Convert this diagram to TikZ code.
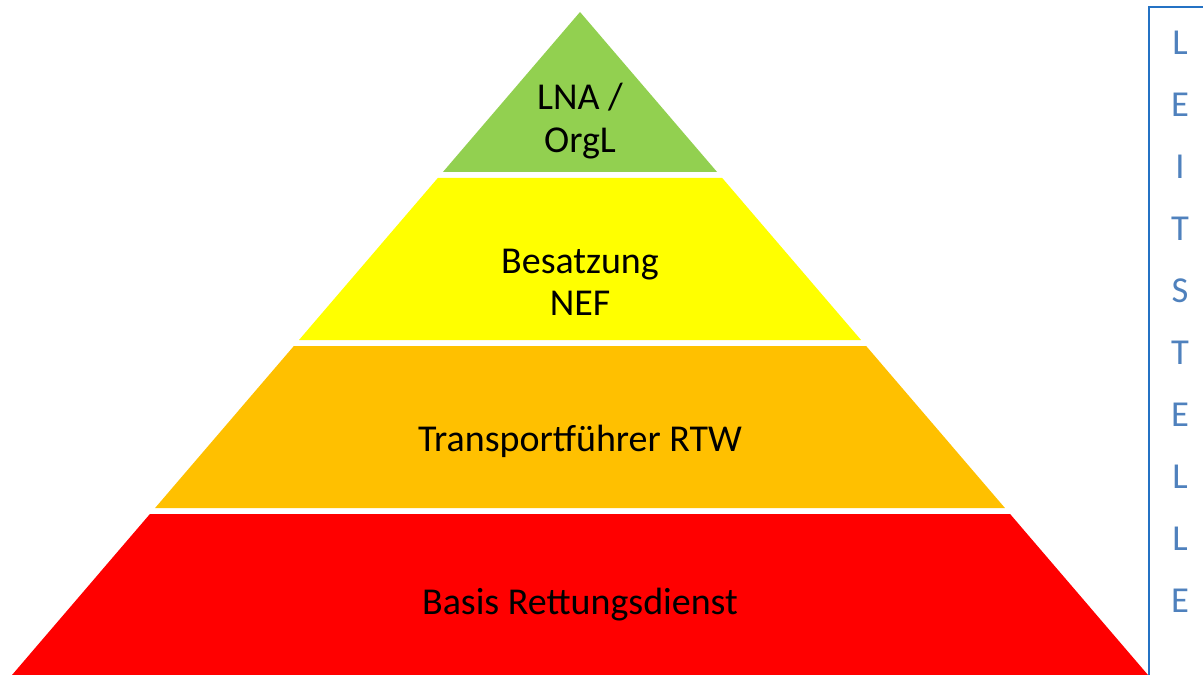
\documentclass[tikz,border=0pt]{standalone}
\usepackage{fontspec}
\setmainfont{Carlito}
\usetikzlibrary{positioning,calc}
\definecolor{lgreen}{RGB}{146,208,80}
\definecolor{lyellow}{RGB}{255,255,0}
\definecolor{lorange}{RGB}{255,192,0}
\definecolor{lred}{RGB}{255,0,0}
\definecolor{boxblue}{RGB}{36,114,196}
\definecolor{letterblue}{RGB}{79,129,189}
\tikzset{
  lbl/.style={font=\fontsize{27}{30}\selectfont,align=center,text=black,inner sep=0pt},
  leit/.style={font=\fontsize{26}{30}\selectfont,text=letterblue,inner sep=0pt},
  leitbox/.style={draw=boxblue,line width=1.4pt}
}
\begin{document}
\begin{tikzpicture}[x=0.025cm,y=-0.025cm]
  \useasboundingbox (0,0) rectangle (1203,675);

  % pyramid layers
  \foreach \t/\b/\c in {12/172/lgreen,178/340/lyellow,346/508/lorange,514/675/lred}{
    \pgfmathsetmacro\wt{0.8567*(\t-12)}
    \pgfmathsetmacro\wb{0.8567*(\b-12)}
    \fill[\c] ({580-\wt},\t) -- ({580+\wt},\t) -- ({580+\wb},\b) -- ({580-\wb},\b) -- cycle;
  }

  \node[lbl] (lna) at (580,121) {LNA /\\OrgL};
  \node[lbl] (nef) at (580,282) {Besatzung\\NEF};
  \node[lbl] (rtw) at (580,441) {Transportführer RTW};
  \node[lbl] (basis) at (580,605) {Basis Rettungsdienst};

  % Leitstelle
  \begin{scope}
    \clip (0,0) rectangle (1203,675);
    \draw[leitbox] (1149,7) rectangle (1220,690);
  \end{scope}
  \foreach \l [count=\i] in {L,E,I,T,S,T,E,L,L,E}
    \node[leit] (ls\i) at (1180,{43+(\i-1)*62}) {\l};
\end{tikzpicture}
\end{document}
